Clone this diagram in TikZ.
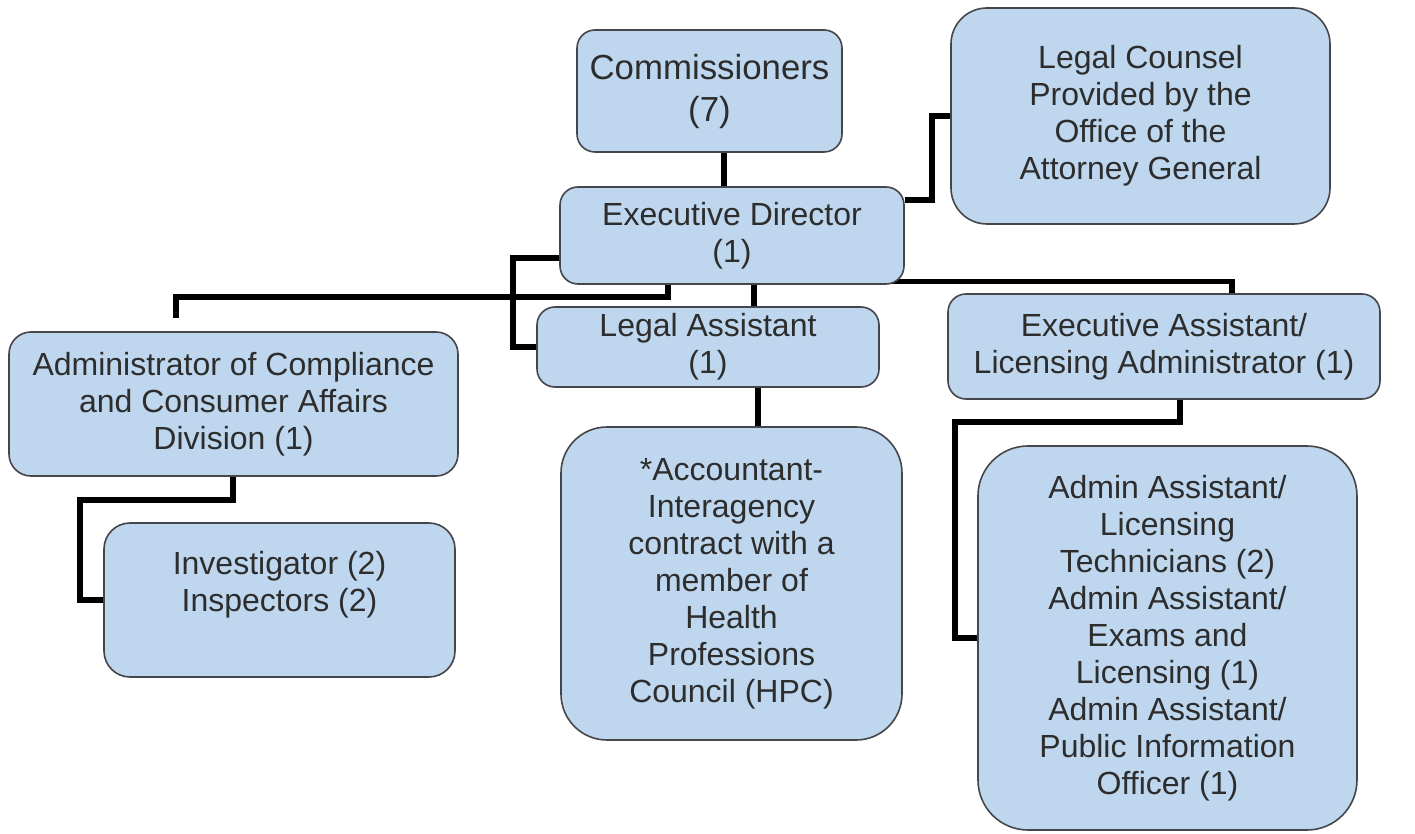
\documentclass[tikz,border=0pt]{standalone}
\usepackage{fontspec}
\setmainfont{Liberation Sans}
\usetikzlibrary{backgrounds}
\definecolor{boxfill}{RGB}{190,214,238}
\definecolor{boxline}{RGB}{70,70,74}
\definecolor{boxtext}{RGB}{45,45,45}
\tikzset{
  orgbox/.style={draw=boxline, line width=0.8pt, fill=boxfill, text=boxtext,
    align=center, inner sep=0pt, rounded corners=9pt,
    font=\fontsize{16}{18.5}\selectfont},
  link/.style={line width=2.6pt, draw=black, line join=miter}
}
\begin{document}
\begin{tikzpicture}[x=0.5pt, y=-0.5pt]
\useasboundingbox (0,0) rectangle (1415,834);

% staff positions
\node[orgbox, minimum width=132.5pt, minimum height=61pt, font=\fontsize{17.4}{21}\selectfont]
  (comm) at (709.5,91) {Commissioners\\(7)};
\node[orgbox, minimum width=189.5pt, minimum height=108pt, rounded corners=18pt]
  (counsel) at (1140.5,116) {Legal Counsel\\Provided by the\\Office of the\\Attorney General};
\node[orgbox, minimum width=172pt, minimum height=48.5pt]
  (ed) at (732,235.5) {Executive Director\\(1)};
\node[orgbox, minimum width=171pt, minimum height=40pt]
  (legal) at (708,347) {Legal Assistant\\(1)};
\node[orgbox, minimum width=216pt, minimum height=52.5pt]
  (ea) at (1164,346.5) {Executive Assistant/\\Licensing Administrator (1)};
\node[orgbox, minimum width=224.5pt, minimum height=72pt, rounded corners=11pt]
  (adm) at (233.5,404) {Administrator of Compliance\\and Consumer Affairs\\Division (1)};
\node[orgbox, minimum width=175.5pt, minimum height=77pt, rounded corners=13pt]
  (inv) at (279.5,600) {Investigator (2)\\Inspectors (2)\\\mbox{}};
\node[orgbox, minimum width=170.5pt, minimum height=156.5pt, rounded corners=23pt]
  (acct) at (731.5,583.5) {*Accountant-\\Interagency\\contract with a\\member of\\Health\\Professions\\Council (HPC)};
\node[orgbox, minimum width=189.5pt, minimum height=192pt, rounded corners=25pt]
  (aa) at (1167.5,638) {Admin Assistant/\\Licensing\\Technicians (2)\\Admin Assistant/\\Exams and\\Licensing (1)\\Admin Assistant/\\Public Information\\Officer (1)};

% helper points for the elbow connectors
\coordinate (x724) at (724,0);
\coordinate (x668) at (668,0);
\coordinate (x754) at (754,0);
\coordinate (x758) at (758,0);
\coordinate (x1180) at (1180,0);
\coordinate (x1232) at (1232,0);
\coordinate (x233) at (233,0);
\coordinate (jCounsel) at (932,200);
\coordinate (jAdmTop) at (176,297);
\coordinate (admEnd) at (176,318);
\coordinate (jLegal) at (513,258);
\coordinate (jEa) at (955,422);
\coordinate (jInv) at (80,500);

\begin{scope}[on background layer]
\draw[link] (comm.south -| x724) -- (ed.north -| x724);
\draw[link] (ed.east |- jCounsel) -- (jCounsel) |- (counsel.west);
\draw[link] (ed.south -| x668) |- (jAdmTop) -- (admEnd);
\draw[link] (ed.west |- jLegal) -- (jLegal) |- (legal.west);
\draw[link] (ed.south -| x754) -- (legal.north -| x754);
\draw[link] ([shift={(-10pt,1.5pt)}]ed.south east) -| (ea.north -| x1232);
\draw[link] (legal.south -| x758) -- (acct.north -| x758);
\draw[link] (ea.south -| x1180) |- (jEa) |- (aa.west);
\draw[link] (adm.south -| x233) |- (jInv) |- (inv.west);
\end{scope}
\end{tikzpicture}
\end{document}
